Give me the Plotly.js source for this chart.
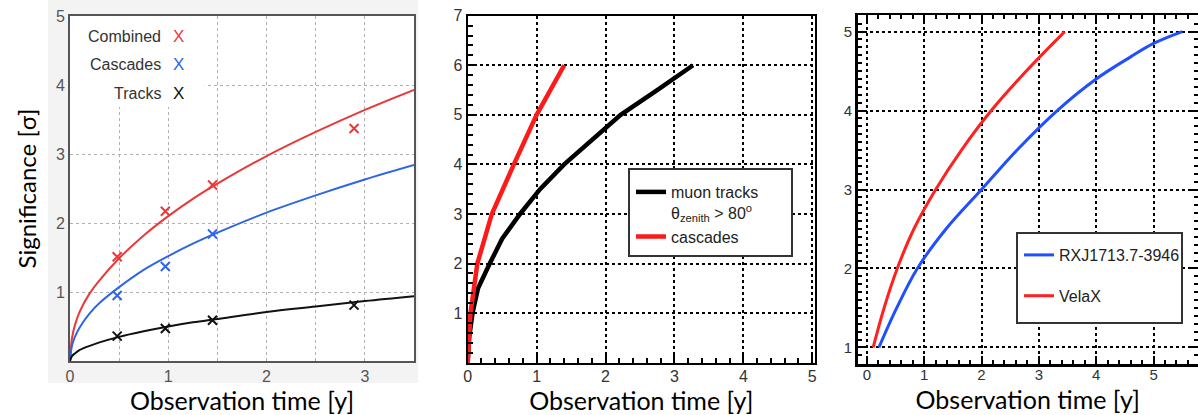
<!DOCTYPE html>
<html>
<head>
<meta charset="utf-8">
<script src="https://cdn.plot.ly/plotly-3.0.1.min.js"></script>
<style>html,body{margin:0;padding:0;background:#fff;}#chart{width:1198px;height:415px;}</style>
</head>
<body>
<div id="chart"></div>
<script>
// ---- Panel 1: significance vs observation time (fits + simulated points)
const p1CurveX   = [0, 0.02, 0.05, 0.1, 0.2, 0.3, 0.5, 0.75, 1, 1.25, 1.5, 2, 2.5, 3, 3.5];
const p1Combined = [0, 0.33, 0.52, 0.72, 0.98, 1.17, 1.49, 1.82, 2.1, 2.35, 2.57, 2.97, 3.32, 3.64, 3.93];
const p1Cascades = [0, 0.22, 0.35, 0.49, 0.69, 0.84, 1.07, 1.32, 1.52, 1.70, 1.86, 2.15, 2.40, 2.63, 2.84];
const p1Tracks   = [0, 0.07, 0.11, 0.16, 0.22, 0.27, 0.35, 0.43, 0.50, 0.56, 0.61, 0.71, 0.79, 0.87, 0.94];
const p1CombPtX = [0.48, 0.97, 1.45, 2.89];
const p1CombPtY = [1.51, 2.17, 2.55, 3.37];
const p1CascPtX = [0.48, 0.97, 1.45];
const p1CascPtY = [0.95, 1.37, 1.84];
const p1TrkPtX  = [0.48, 0.97, 1.45, 2.89];
const p1TrkPtY  = [0.36, 0.47, 0.59, 0.81];
const p1Names   = ['Combined', 'Cascades', 'Tracks'];
const p1XTicks  = [0, 1, 2, 3];
const p1YTicks  = [1, 2, 3, 4, 5];

// ---- Panel 2: muon tracks vs cascades
const p2TracksX = [0, 0.02, 0.07, 0.15, 0.32, 0.5, 0.76, 1.05, 1.4, 1.8, 2.22, 2.75, 3.27];
const p2TracksY = [0, 0.5, 1, 1.5, 2, 2.5, 3, 3.5, 4, 4.5, 5, 5.5, 6];
const p2CascX   = [0, 0.04, 0.14, 0.35, 0.67, 1.0, 1.4];
const p2CascY   = [0, 1, 2, 3, 4, 5, 6];
const p2Names   = ['muon tracks<br>θ<sub>zenith</sub> > 80<sup>o</sup>', 'cascades'];
const p2YTicks  = [1, 2, 3, 4, 5, 6, 7];
const p2XTicks  = [0, 1, 2, 3, 4, 5];

// ---- Panel 3: sources
const p3RxjX  = [0.21, 0.52, 0.88, 1.38, 2.0, 2.62, 3.32, 4.0, 4.6, 5.0, 5.5];
const p3RxjY  = [1, 1.5, 2, 2.5, 3, 3.5, 4, 4.4, 4.68, 4.85, 5.0];
const p3VelaX = [0.11, 0.30, 0.53, 0.82, 1.2, 1.65, 2.17, 2.78, 3.45];
const p3VelaY = [1, 1.5, 2, 2.5, 3, 3.5, 4, 4.5, 5];
const p3Names = ['RXJ1713.7-3946', 'VelaX'];
const p3YTicks    = [1, 2, 3, 4, 5];
const p3YHalfGrid = [1.5, 2.5, 3.5, 4.5];
const p3XTicks    = [0, 1, 2, 3, 4, 5];

const W = 1198, H = 415;
const FT = 'Liberation Sans, Arial, sans-serif';
const TT = 'Lato, Open Sans, sans-serif';
const red1 = '#e8393a', blue1 = '#2f66e3', blk = '#111111';

const traces = [
  {x: p1CurveX, y: p1Combined, xaxis: 'x', yaxis: 'y', mode: 'lines', line: {color: red1, width: 2, shape: 'spline'}, showlegend: false, name: p1Names[0]},
  {x: p1CurveX, y: p1Cascades, xaxis: 'x', yaxis: 'y', mode: 'lines', line: {color: blue1, width: 2, shape: 'spline'}, showlegend: false, name: p1Names[1]},
  {x: p1CurveX, y: p1Tracks, xaxis: 'x', yaxis: 'y', mode: 'lines', line: {color: blk, width: 2, shape: 'spline'}, showlegend: false, name: p1Names[2]},
  {x: p1CombPtX, y: p1CombPtY, xaxis: 'x', yaxis: 'y', mode: 'markers', marker: {symbol: 'x-thin', size: 9, line: {color: red1, width: 2}}, showlegend: false},
  {x: p1CascPtX, y: p1CascPtY, xaxis: 'x', yaxis: 'y', mode: 'markers', marker: {symbol: 'x-thin', size: 9, line: {color: blue1, width: 2}}, showlegend: false},
  {x: p1TrkPtX, y: p1TrkPtY, xaxis: 'x', yaxis: 'y', mode: 'markers', marker: {symbol: 'x-thin', size: 9, line: {color: blk, width: 2}}, showlegend: false},

  {x: p2TracksX, y: p2TracksY, xaxis: 'x2', yaxis: 'y2', mode: 'lines', line: {color: '#000', width: 4.5}, name: p2Names[0], legend: 'legend'},
  {x: p2CascX, y: p2CascY, xaxis: 'x2', yaxis: 'y2', mode: 'lines', line: {color: '#ff1a1a', width: 4.5}, name: p2Names[1], legend: 'legend'},

  {x: p3RxjX, y: p3RxjY, xaxis: 'x3', yaxis: 'y3', mode: 'lines', line: {color: '#1f4fff', width: 3, shape: 'spline'}, name: p3Names[0], legend: 'legend2', legendgroup: 'a'},
  {x: p3VelaX, y: p3VelaY, xaxis: 'x3', yaxis: 'y3', mode: 'lines', line: {color: '#ff2020', width: 3, shape: 'spline'}, name: p3Names[1], legend: 'legend2', legendgroup: 'b'}
];

const dom = (a, b) => [a / W, b / W];
const vdom = (top, bot) => [1 - bot / H, 1 - top / H];
const px = v => v / W, py = v => 1 - v / H;

const titleFont = {family: TT, size: 25, color: '#000'};

const layout = {
  width: W, height: H,
  margin: {l: 0, r: 0, t: 0, b: 0},
  paper_bgcolor: '#ffffff', plot_bgcolor: '#ffffff',
  font: {family: FT, color: '#222'},
  xaxis: {
    domain: dom(70, 414), range: [0, 3.5], anchor: 'y',
    tickvals: p1XTicks, ticks: '',
    showgrid: true, gridcolor: '#b0b0b0', griddash: 'dot', gridwidth: 1,
    minor: {dtick: 0.5, tick0: 0, showgrid: true, gridcolor: '#b0b0b0', griddash: 'dot', gridwidth: 1, ticks: ''},
    showline: true, linecolor: '#555', linewidth: 2, mirror: true, zeroline: false,
    tickfont: {family: FT, size: 16, color: '#555'},
    title: {text: 'Observation time [y]', font: titleFont, standoff: 7}
  },
  yaxis: {
    domain: vdom(16, 361), range: [0, 5], anchor: 'x',
    tickvals: p1YTicks, ticks: '',
    showgrid: true, gridcolor: '#b0b0b0', griddash: 'dot', gridwidth: 1,
    showline: true, linecolor: '#555', linewidth: 2, mirror: true, zeroline: false,
    tickfont: {family: FT, size: 16, color: '#555'},
    title: {text: 'Significance [σ]', font: {family: TT, size: 24, color: '#000'}, standoff: 12}
  },
  xaxis2: {
    domain: dom(467.7, 815), range: [0, 5.04], anchor: 'y2',
    tickvals: p2XTicks, ticks: 'inside', ticklen: 8, tickwidth: 2, tickcolor: '#000',
    minor: {dtick: 0.2, tick0: 0, ticks: 'inside', ticklen: 5, tickwidth: 2, tickcolor: '#000', showgrid: false},
    showgrid: true, gridcolor: '#000', griddash: 'dot', gridwidth: 2,
    showline: true, linecolor: '#000', linewidth: 2, mirror: true, zeroline: false,
    tickfont: {family: FT, size: 16, color: '#333'}, ticklabelstandoff: -2,
    title: {text: 'Observation time [y]', font: titleFont, standoff: 7}
  },
  yaxis2: {
    domain: vdom(15.7, 362.7), range: [0, 7], anchor: 'x2',
    tickvals: p2YTicks, ticks: 'inside', ticklen: 8, tickwidth: 2, tickcolor: '#000',
    minor: {dtick: 0.2, tick0: 0, ticks: 'inside', ticklen: 5, tickwidth: 2, tickcolor: '#000', showgrid: false},
    showgrid: true, gridcolor: '#000', griddash: 'dot', gridwidth: 2,
    showline: true, linecolor: '#000', linewidth: 2, mirror: true, zeroline: false,
    tickfont: {family: FT, size: 16, color: '#333'}
  },
  xaxis3: {
    domain: dom(857.7, 1197.7), range: [-0.16, 5.77], anchor: 'y3',
    tickvals: p3XTicks, ticks: 'inside', ticklen: 8, tickwidth: 2, tickcolor: '#000',
    minor: {dtick: 0.2, tick0: 0, ticks: 'inside', ticklen: 4, tickwidth: 2, tickcolor: '#000', showgrid: false},
    showgrid: true, gridcolor: '#000', griddash: 'dot', gridwidth: 2,
    showline: true, linecolor: '#000', linewidth: 2.5, mirror: 'ticks', zeroline: false,
    tickfont: {family: FT, size: 15, color: '#333'}, ticklabelstandoff: -5,
    title: {text: 'Observation time [y]', font: titleFont, standoff: 10}
  },
  yaxis3: {
    domain: vdom(15, 364), range: [0.79, 5.21], anchor: 'x3',
    tickvals: p3YTicks, ticks: 'inside', ticklen: 7, tickwidth: 2, tickcolor: '#000',
    minor: {dtick: 0.1, tick0: 0, ticks: 'inside', ticklen: 4, tickwidth: 2, tickcolor: '#000', showgrid: false},
    showgrid: true, gridcolor: '#000', griddash: 'dot', gridwidth: 2,
    showline: true, linecolor: '#000', linewidth: 2.5, mirror: 'ticks', zeroline: false,
    tickfont: {family: FT, size: 15, color: '#333'}
  },
  yaxis4: {
    overlaying: 'y3', anchor: 'x3', range: [0.79, 5.21],
    tickvals: p3YHalfGrid, showticklabels: false, ticks: '',
    showgrid: true, gridcolor: '#000', griddash: 'dot', gridwidth: 2,
    showline: false, zeroline: false
  },
  legend: {
    x: px(631), y: py(175), xanchor: 'left', yanchor: 'top',
    bgcolor: 'rgba(0,0,0,0)', borderwidth: 0,
    font: {family: FT, size: 16, color: '#222'}, valign: 'top', traceorder: 'normal'
  },
  legend2: {
    x: px(1019), y: py(238), xanchor: 'left', yanchor: 'top',
    bgcolor: 'rgba(0,0,0,0)', borderwidth: 0,
    font: {family: FT, size: 16, color: '#222'}, tracegroupgap: 17, traceorder: 'grouped'
  },
  shapes: [
    // light grey surround of panel 1 (outside the plot area)
    {type: 'rect', xref: 'paper', yref: 'paper', x0: px(48), x1: px(418), y0: py(16), y1: py(0), fillcolor: '#f3f3f3', line: {width: 0}, layer: 'below'},
    {type: 'rect', xref: 'paper', yref: 'paper', x0: px(48), x1: px(418), y0: py(383), y1: py(361), fillcolor: '#f3f3f3', line: {width: 0}, layer: 'below'},
    {type: 'rect', xref: 'paper', yref: 'paper', x0: px(48), x1: px(70), y0: py(361), y1: py(16), fillcolor: '#f3f3f3', line: {width: 0}, layer: 'below'},
    {type: 'rect', xref: 'paper', yref: 'paper', x0: px(414), x1: px(418), y0: py(361), y1: py(16), fillcolor: '#f3f3f3', line: {width: 0}, layer: 'below'},
    // white patch behind panel-1 key
    {type: 'rect', xref: 'x', yref: 'y', x0: 0, x1: 1.37, y0: 3.68, y1: 5, fillcolor: '#ffffff', line: {width: 0}, layer: 'between'},
    // legend boxes for panels 2 and 3
    {type: 'rect', xref: 'paper', yref: 'paper', x0: px(629), x1: px(792), y0: py(256), y1: py(169), fillcolor: '#ffffff', line: {color: '#333', width: 2}, layer: 'above'},
    {type: 'rect', xref: 'paper', yref: 'paper', x0: px(1017), x1: px(1182), y0: py(323), y1: py(233), fillcolor: '#ffffff', line: {color: '#333', width: 2}, layer: 'above'}
  ],
  annotations: [
    {xref: 'paper', yref: 'paper', x: px(163), y: py(37), xanchor: 'right', yanchor: 'middle', text: p1Names[0], showarrow: false, font: {family: FT, size: 16, color: '#333'}},
    {xref: 'paper', yref: 'paper', x: px(163), y: py(65), xanchor: 'right', yanchor: 'middle', text: p1Names[1], showarrow: false, font: {family: FT, size: 16, color: '#333'}},
    {xref: 'paper', yref: 'paper', x: px(163), y: py(93), xanchor: 'right', yanchor: 'middle', text: p1Names[2], showarrow: false, font: {family: FT, size: 16, color: '#333'}},
    {xref: 'paper', yref: 'paper', x: px(178), y: py(37), xanchor: 'center', yanchor: 'middle', text: 'X', showarrow: false, font: {family: FT, size: 17, color: red1}},
    {xref: 'paper', yref: 'paper', x: px(178), y: py(65), xanchor: 'center', yanchor: 'middle', text: 'X', showarrow: false, font: {family: FT, size: 17, color: blue1}},
    {xref: 'paper', yref: 'paper', x: px(178), y: py(93), xanchor: 'center', yanchor: 'middle', text: 'X', showarrow: false, font: {family: FT, size: 17, color: blk}}
  ]
};

Plotly.newPlot('chart', traces, layout, {displayModeBar: false, staticPlot: true});
</script>
</body>
</html>
